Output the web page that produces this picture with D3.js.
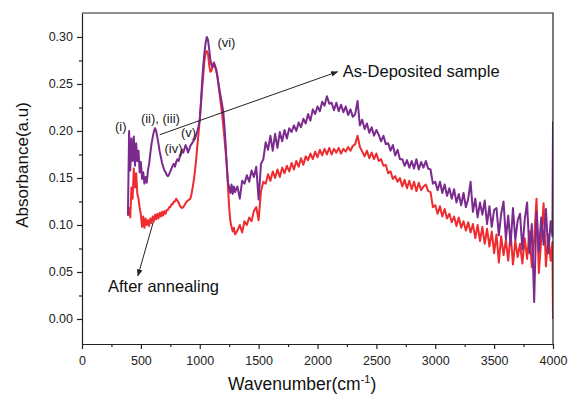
<!DOCTYPE html>
<html>
<head>
<meta charset="utf-8">
<script src="https://cdn.jsdelivr.net/npm/d3@7"></script>
<style>
  html, body { margin: 0; padding: 0; background: #fff; }
  svg { display: block; font-family: Arial, "Liberation Sans", sans-serif; }
</style>
</head>
<body>
<div id="chart"></div>
<script>
// sample grid (cm-1): 10 cm-1 steps over the band region, 20 cm-1 after
const wavenumbers = [
  390, 400, 410, 420, 430, 440, 450, 460, 470, 480,
  490, 500, 510, 520, 530, 540, 550, 560, 570, 580,
  590, 600, 610, 620, 630, 640, 650, 660, 670, 680,
  690, 700, 710, 720, 730, 740, 750, 760, 770, 780,
  790, 800, 810, 820, 830, 840, 850, 860, 870, 880,
  890, 900, 910, 920, 930, 940, 950, 960, 970, 980,
  990, 1000, 1010, 1020, 1030, 1040, 1050, 1060, 1070, 1080,
  1090, 1100, 1110, 1120, 1130, 1140, 1150, 1160, 1170, 1180,
  1190, 1200, 1210, 1220, 1230, 1240, 1250, 1260, 1270, 1280,
  1290, 1300,
  1320, 1340, 1360, 1380, 1400, 1420, 1440, 1460, 1480, 1500,
  1520, 1540, 1560, 1580, 1600, 1620, 1640, 1660, 1680, 1700,
  1720, 1740, 1760, 1780, 1800, 1820, 1840, 1860, 1880, 1900,
  1920, 1940, 1960, 1980, 2000, 2020, 2040, 2060, 2080, 2100,
  2120, 2140, 2160, 2180, 2200, 2220, 2240, 2260, 2280, 2300,
  2320, 2340, 2360, 2380, 2400, 2420, 2440, 2460, 2480, 2500,
  2520, 2540, 2560, 2580, 2600, 2620, 2640, 2660, 2680, 2700,
  2720, 2740, 2760, 2780, 2800, 2820, 2840, 2860, 2880, 2900,
  2920, 2940, 2960, 2980, 3000, 3020, 3040, 3060, 3080, 3100,
  3120, 3140, 3160, 3180, 3200, 3220, 3240, 3260, 3280, 3300,
  3320, 3340, 3360, 3380, 3400, 3420, 3440, 3460, 3480, 3500,
  3520, 3540, 3560, 3580, 3600, 3620, 3640, 3660, 3680, 3700,
  3720, 3740, 3760, 3780, 3800, 3820, 3840, 3860, 3880, 3900,
  3920, 3940, 3960, 3980, 3995, 4000
];

const asDeposited = [
  0.110, 0.200, 0.158, 0.192, 0.168, 0.194, 0.163, 0.187, 0.168, 0.179,
  0.156, 0.167, 0.149, 0.156, 0.144, 0.151, 0.145, 0.158, 0.165, 0.176,
  0.186, 0.193, 0.199, 0.203, 0.200, 0.193, 0.186, 0.178, 0.172, 0.166,
  0.162, 0.158, 0.156, 0.153, 0.152, 0.154, 0.157, 0.160, 0.163, 0.165,
  0.162, 0.167, 0.170, 0.168, 0.172, 0.175, 0.180, 0.177, 0.181, 0.185,
  0.182, 0.177, 0.180, 0.184, 0.186, 0.188, 0.190, 0.192, 0.196, 0.200,
  0.205, 0.212, 0.230, 0.252, 0.270, 0.283, 0.294, 0.300, 0.297, 0.287,
  0.276, 0.270, 0.268, 0.272, 0.268, 0.264, 0.258, 0.250, 0.242, 0.235,
  0.228, 0.220, 0.205, 0.185, 0.162, 0.145, 0.140, 0.134, 0.143, 0.133,
  0.141, 0.135,
  0.141, 0.128, 0.147, 0.144, 0.153, 0.146, 0.158, 0.151, 0.162, 0.127,
  0.165, 0.170, 0.188, 0.180, 0.195, 0.179, 0.197, 0.182, 0.199, 0.189,
  0.201, 0.192, 0.203, 0.199, 0.206, 0.200, 0.209, 0.204, 0.213, 0.208,
  0.218, 0.211, 0.223, 0.218, 0.226, 0.221, 0.231, 0.227, 0.237, 0.229,
  0.230, 0.222, 0.230, 0.221, 0.228, 0.220, 0.226, 0.217, 0.223, 0.215,
  0.218, 0.232, 0.206, 0.212, 0.202, 0.208, 0.198, 0.204, 0.195, 0.201,
  0.196, 0.189, 0.195, 0.186, 0.187, 0.179, 0.185, 0.174, 0.180, 0.170,
  0.170, 0.163, 0.169, 0.161, 0.168, 0.160, 0.170, 0.159, 0.167, 0.161,
  0.168, 0.160, 0.159, 0.144, 0.146, 0.137, 0.146, 0.134, 0.143, 0.131,
  0.139, 0.128, 0.138, 0.124, 0.133, 0.121, 0.134, 0.119, 0.128, 0.146,
  0.114, 0.128, 0.108, 0.124, 0.111, 0.126, 0.101, 0.120, 0.098, 0.116,
  0.118, 0.089, 0.112, 0.125, 0.085, 0.110, 0.079, 0.118, 0.084, 0.105,
  0.112, 0.074, 0.106, 0.124, 0.070, 0.101, 0.018, 0.114, 0.072, 0.108,
  0.079, 0.117, 0.070, 0.104, 0.088, 0.210
];

const afterAnnealing = [
  0.110, 0.118, 0.108, 0.140, 0.128, 0.160, 0.140, 0.155, 0.133, 0.128,
  0.118, 0.111, 0.098, 0.109, 0.097, 0.107, 0.100, 0.105, 0.099, 0.107,
  0.102, 0.109, 0.104, 0.111, 0.106, 0.112, 0.107, 0.113, 0.109, 0.114,
  0.110, 0.115, 0.112, 0.116, 0.116, 0.119, 0.119, 0.122, 0.122, 0.125,
  0.125, 0.128, 0.126, 0.124, 0.121, 0.119, 0.118, 0.119, 0.121, 0.123,
  0.125, 0.126, 0.127, 0.128, 0.133, 0.140, 0.148, 0.158, 0.170, 0.185,
  0.198, 0.212, 0.228, 0.245, 0.260, 0.275, 0.283, 0.285, 0.282, 0.270,
  0.263, 0.264, 0.270, 0.273, 0.270, 0.266, 0.258, 0.248, 0.238, 0.228,
  0.218, 0.205, 0.192, 0.178, 0.163, 0.140, 0.118, 0.104, 0.098, 0.093,
  0.097, 0.090,
  0.094, 0.100, 0.092, 0.104, 0.100, 0.108, 0.104, 0.115, 0.119, 0.105,
  0.136, 0.146, 0.144, 0.154, 0.147, 0.157, 0.150, 0.159, 0.151, 0.161,
  0.155, 0.163, 0.157, 0.166, 0.159, 0.168, 0.162, 0.171, 0.164, 0.173,
  0.169, 0.176, 0.170, 0.178, 0.172, 0.180, 0.174, 0.181, 0.175, 0.182,
  0.175, 0.181, 0.177, 0.182, 0.176, 0.181, 0.178, 0.183, 0.179, 0.184,
  0.186, 0.195, 0.183, 0.178, 0.173, 0.179, 0.171, 0.177, 0.170, 0.176,
  0.168, 0.170, 0.163, 0.164, 0.155, 0.157, 0.149, 0.152, 0.146, 0.150,
  0.141, 0.148, 0.139, 0.147, 0.138, 0.146, 0.136, 0.145, 0.137, 0.141,
  0.143, 0.136, 0.135, 0.119, 0.121, 0.112, 0.120, 0.109, 0.117, 0.107,
  0.112, 0.103, 0.109, 0.099, 0.108, 0.097, 0.104, 0.094, 0.103, 0.092,
  0.101, 0.086, 0.100, 0.083, 0.098, 0.080, 0.096, 0.077, 0.093, 0.070,
  0.090, 0.060, 0.088, 0.068, 0.084, 0.062, 0.091, 0.058, 0.083, 0.066,
  0.080, 0.059, 0.086, 0.064, 0.093, 0.055, 0.084, 0.128, 0.049, 0.085,
  0.123, 0.056, 0.090, 0.062, 0.082, 0.000
];

const xTicks = [0, 500, 1000, 1500, 2000, 2500, 3000, 3500, 4000];
const yTicks = [0.00, 0.05, 0.10, 0.15, 0.20, 0.25, 0.30];

const width = 569;
const height = 396;
const margin = { top: 13, right: 16, bottom: 52, left: 82 };

const svg = d3.select("#chart")
  .append("svg")
  .attr("width", width)
  .attr("height", height);

const x = d3.scaleLinear()
  .domain([0, 4000])
  .range([margin.left, width - margin.right]);

const y = d3.scaleLinear()
  .domain([-0.0266, 0.3255])
  .range([height - margin.bottom, margin.top]);

svg.append("defs").append("clipPath")
  .attr("id", "plot-clip")
  .append("rect")
  .attr("x", margin.left)
  .attr("y", margin.top)
  .attr("width", width - margin.left - margin.right)
  .attr("height", height - margin.top - margin.bottom);

svg.select("defs").append("marker")
  .attr("id", "arrow")
  .attr("viewBox", "0 0 10 10")
  .attr("refX", 9)
  .attr("refY", 5)
  .attr("markerWidth", 7)
  .attr("markerHeight", 7)
  .attr("orient", "auto")
  .append("path")
  .attr("d", "M0,1 L10,5 L0,9 Z")
  .attr("fill", "#222");

// spectra
const line = d3.line()
  .x((d) => x(d[0]))
  .y((d) => y(d[1]));

const series = [
  { values: afterAnnealing, color: "#ee2b2e" },
  { values: asDeposited, color: "#7b2a8e" },
];

svg.append("g")
  .attr("clip-path", "url(#plot-clip)")
  .selectAll("path")
  .data(series)
  .join("path")
  .attr("fill", "none")
  .attr("stroke", (s) => s.color)
  .attr("stroke-width", 2)
  .attr("stroke-linejoin", "round")
  .attr("d", (s) => line(wavenumbers.map((w, i) => [w, s.values[i]])));

// axes
const axisColor = "#222";

const xAxis = svg.append("g")
  .attr("transform", `translate(0,${height - margin.bottom})`)
  .call(d3.axisBottom(x).tickValues(xTicks).tickFormat(d3.format("d")).tickSize(5).tickSizeOuter(0));

svg.append("g")
  .attr("transform", `translate(0,${height - margin.bottom})`)
  .call(d3.axisBottom(x).tickValues(xTicks.slice(0, -1).map((t) => t + 250)).tickFormat("").tickSize(3).tickSizeOuter(0))
  .call((g) => g.select(".domain").remove());

const yAxis = svg.append("g")
  .attr("transform", `translate(${margin.left},0)`)
  .call(d3.axisLeft(y).tickValues(yTicks).tickFormat(d3.format(".2f")).tickSize(5).tickSizeOuter(0));

svg.append("g")
  .attr("transform", `translate(${margin.left},0)`)
  .call(d3.axisLeft(y).tickValues(yTicks.slice(0, -1).map((t) => t + 0.025)).tickFormat("").tickSize(3).tickSizeOuter(0))
  .call((g) => g.select(".domain").remove());

svg.selectAll(".tick line, .domain").attr("stroke", axisColor).attr("stroke-width", 1.2);
svg.selectAll(".tick text").attr("fill", axisColor).attr("font-size", 12.5).attr("font-family", "Arial, 'Liberation Sans', sans-serif");
xAxis.selectAll(".tick text").attr("dy", "1.05em");
yAxis.selectAll(".tick text").attr("x", -9);

// top and right frame
svg.append("path")
  .attr("d", `M${x(0)},${y.range()[1]} H${x(4000)} V${y.range()[0]}`)
  .attr("fill", "none")
  .attr("stroke", axisColor)
  .attr("stroke-width", 1.2);

// axis titles
svg.append("text")
  .attr("transform", "translate(22,165) rotate(-90)")
  .attr("text-anchor", "middle")
  .attr("dominant-baseline", "central")
  .attr("font-size", 17)
  .attr("fill", "#111")
  .text("Absorbance(a.u)");

const xTitle = svg.append("text")
  .attr("x", x(1870))
  .attr("y", 390)
  .attr("text-anchor", "middle")
  .attr("font-size", 17.5)
  .attr("fill", "#111")
  .text("Wavenumber(cm");
xTitle.append("tspan").attr("dy", -7).attr("font-size", 11).text("-1");
xTitle.append("tspan").attr("dy", 7).text(")");

// peak labels
const peakLabels = [
  { text: "(i)", wn: 280, val: 0.200 },
  { text: "(ii), (iii)", wn: 500, val: 0.2085 },
  { text: "(iv)", wn: 700, val: 0.1766 },
  { text: "(v)", wn: 840, val: 0.194 },
  { text: "(vi)", wn: 1150, val: 0.289 },
];

svg.append("g")
  .selectAll("text")
  .data(peakLabels)
  .join("text")
  .attr("x", (d) => x(d.wn))
  .attr("y", (d) => y(d.val))
  .attr("font-size", 13)
  .attr("fill", "#222")
  .text((d) => d.text);

// callouts
const callouts = [
  { text: "As-Deposited sample", from: [660, 0.196], to: [2170, 0.263], tx: 2215, ty: 0.2575 },
  { text: "After annealing", from: [605, 0.103], to: [475, 0.046], tx: 221, ty: 0.0287 },
];

callouts.forEach((c) => {
  svg.append("line")
    .attr("x1", x(c.from[0]))
    .attr("y1", y(c.from[1]))
    .attr("x2", x(c.to[0]))
    .attr("y2", y(c.to[1]))
    .attr("stroke", "#222")
    .attr("stroke-width", 1)
    .attr("marker-end", "url(#arrow)");

  svg.append("text")
    .attr("x", x(c.tx))
    .attr("y", y(c.ty))
    .attr("font-size", 16.5)
    .attr("fill", "#111")
    .text(c.text);
});
</script>
</body>
</html>
